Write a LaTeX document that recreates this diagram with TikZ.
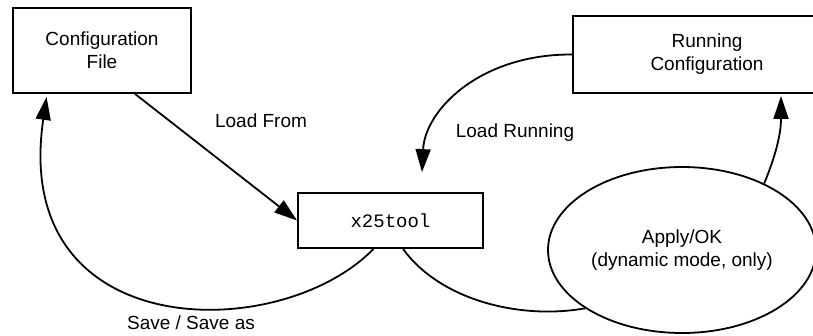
\documentclass[tikz,border=0pt]{standalone}
\usepackage{fontspec}
\setmainfont{Liberation Sans}
\setmonofont{Liberation Mono}
\usetikzlibrary{arrows.meta,shapes.geometric}

\begin{document}
\begin{tikzpicture}[x=1pt,y=-1pt,line width=1.8pt,
    font=\fontsize{19}{23}\selectfont,
    box/.style={draw,rectangle,align=center,inner sep=0pt},
    arr/.style={-{Triangle[length=23pt,width=15pt]}}]
    \useasboundingbox (0,0) rectangle (813,335);
    \clip (0,0) rectangle (813,335);
    \node[box,minimum width=178,minimum height=85] (cfgfile) at (102,50.5) {Configuration\\File};
    \node[box,minimum width=268,minimum height=77] (runcfg) at (707,54.5) {Running\\Configuration};
    \node[box,minimum width=185,minimum height=55] (tool) at (390.5,220.5) {\ttfamily x25tool};
    \node[draw,ellipse,minimum width=268,minimum height=166,align=center,inner sep=0pt] (apply) at (682,250) {Apply/OK\\(dynamic mode, only)};

    \draw[arr] ([xshift=33pt]cfgfile.south) -- (tool.west);
    \draw[arr,shorten >=3pt] ([xshift=-17pt]tool.south) .. controls (280,345) and (10,345) .. ([xshift=-55pt]cfgfile.south);
    \draw[arr,shorten >=20pt] (runcfg.west) .. controls (480,54) and (425,110) .. ([xshift=30.5pt]tool.north);
    \draw ([xshift=12.5pt]tool.south) .. controls (440,300) and (520,320) .. (apply.211);
    \draw[arr,shorten >=2pt] (apply.39) .. controls (778,150) and (781,130) .. ([xshift=74pt]runcfg.south);

    \node (loadfrom) at (261,121) {Load From};
    \node (loadrun) at (515,133) {Load Running};
    \node (saveas) at (191,323) {Save / Save as};
\end{tikzpicture}
\end{document}
